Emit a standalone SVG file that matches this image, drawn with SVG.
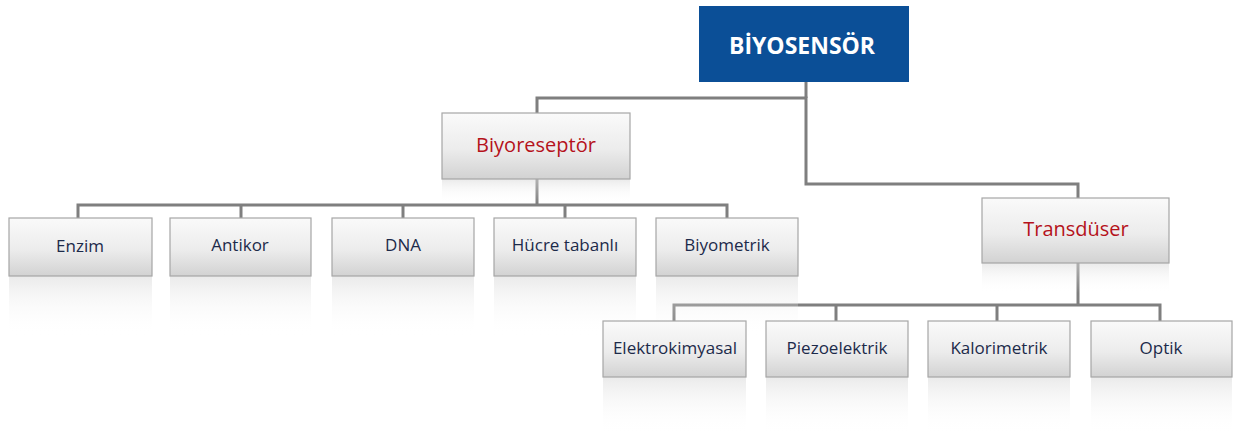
<svg xmlns="http://www.w3.org/2000/svg" width="1233" height="434" viewBox="0 0 1233 434">
<defs>
<linearGradient id="box" x1="0" y1="0" x2="0" y2="1">
<stop offset="0" stop-color="#fafafa"/>
<stop offset="0.55" stop-color="#ececec"/>
<stop offset="1" stop-color="#d2d2d2"/>
</linearGradient>
<linearGradient id="refl" x1="0" y1="0" x2="0" y2="1">
<stop offset="0" stop-color="#d9d9d9" stop-opacity="0.55"/>
<stop offset="0.5" stop-color="#ececec" stop-opacity="0.25"/>
<stop offset="1" stop-color="#ffffff" stop-opacity="0"/>
</linearGradient>
</defs>
<style>
.b{fill:url(#box);stroke:#a6a6a6;stroke-width:1.2}
.r{fill:url(#refl)}
.t{font-family:"Open Sans","Liberation Sans",sans-serif;font-size:17px;fill:#1c2a4a;text-anchor:middle}
.h{font-family:"Open Sans","Liberation Sans",sans-serif;font-size:20px;fill:#b5121b;text-anchor:middle}
.c{fill:none;stroke:#7f7f7f;stroke-width:3}
</style>
<rect width="1233" height="434" fill="#ffffff"/>
<g id="connectors">
<polyline class="c" points="537,113 537,98 806,98 806,184 1078,184 1078,198"/>
<line class="c" x1="806" y1="82" x2="806" y2="98"/>
<polyline class="c" points="537,179 537,205"/>
<polyline class="c" points="78,218 78,205 727,205 727,218"/>
<line class="c" x1="241" y1="205" x2="241" y2="218"/>
<line class="c" x1="403" y1="205" x2="403" y2="218"/>
<line class="c" x1="565" y1="205" x2="565" y2="218"/>
<line class="c" x1="1078" y1="263" x2="1078" y2="305"/>
<polyline class="c" points="674,321 674,305 1160,305 1160,321"/>
<line class="c" x1="836" y1="305" x2="836" y2="321"/>
<line class="c" x1="997" y1="305" x2="997" y2="321"/>
</g>
<g id="biyosensor">
<rect x="699" y="6" width="210" height="76" fill="#0b4f97"/>
<text x="802" y="54" font-family="'Open Sans','Liberation Sans',sans-serif" font-size="23" font-weight="bold" fill="#ffffff" text-anchor="middle">BİYOSENSÖR</text>
</g>
<g id="biyoreseptor">
<rect class="r" x="442" y="179" width="188" height="24"/>
<rect class="b" x="442" y="113" width="188" height="66"/>
<text class="h" x="536" y="152">Biyoreseptör</text>
</g>
<g id="transduser">
<rect class="r" x="982" y="263" width="187" height="30"/>
<rect class="b" x="982" y="198" width="187" height="65"/>
<text class="h" x="1076" y="236">Transdüser</text>
</g>
<g id="enzim">
<rect class="r" x="9" y="276" width="143" height="60"/>
<rect class="b" x="9" y="218" width="143" height="58"/>
<text class="t" x="80" y="252">Enzim</text>
</g>
<g id="antikor">
<rect class="r" x="170" y="276" width="141" height="60"/>
<rect class="b" x="170" y="218" width="141" height="58"/>
<text class="t" x="240" y="251">Antikor</text>
</g>
<g id="dna">
<rect class="r" x="332" y="276" width="142" height="60"/>
<rect class="b" x="332" y="218" width="142" height="58"/>
<text class="t" x="403" y="251">DNA</text>
</g>
<g id="hucre">
<rect class="r" x="494" y="276" width="142" height="60"/>
<rect class="b" x="494" y="218" width="142" height="58"/>
<text class="t" x="565" y="251">Hücre tabanlı</text>
</g>
<g id="biyometrik">
<rect class="r" x="656" y="276" width="142" height="60"/>
<rect class="b" x="656" y="218" width="142" height="58"/>
<text class="t" x="727" y="251">Biyometrik</text>
</g>
<g id="elektrokimyasal">
<rect class="r" x="603" y="377" width="143" height="57"/>
<rect class="b" x="603" y="321" width="143" height="56"/>
<text class="t" x="675" y="354">Elektrokimyasal</text>
</g>
<g id="piezoelektrik">
<rect class="r" x="766" y="377" width="142" height="57"/>
<rect class="b" x="766" y="321" width="142" height="56"/>
<text class="t" x="837" y="354">Piezoelektrik</text>
</g>
<g id="kalorimetrik">
<rect class="r" x="928" y="377" width="142" height="57"/>
<rect class="b" x="928" y="321" width="142" height="56"/>
<text class="t" x="999" y="354">Kalorimetrik</text>
</g>
<g id="optik">
<rect class="r" x="1091" y="377" width="141" height="57"/>
<rect class="b" x="1091" y="321" width="141" height="56"/>
<text class="t" x="1161" y="354">Optik</text>
</g>
</svg>
